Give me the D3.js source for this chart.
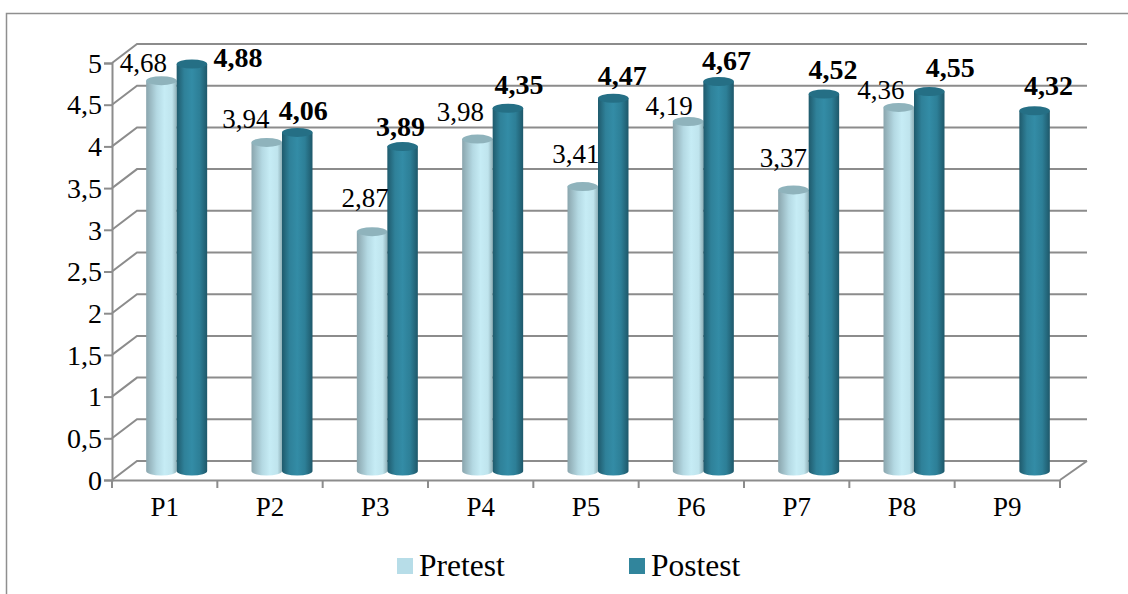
<!DOCTYPE html>
<html>
<head>
<meta charset="utf-8">
<script src="https://cdn.jsdelivr.net/npm/d3@7"></script>
<style>
html, body { margin: 0; padding: 0; background: #fff; }
svg { display: block; }
text { font-family: "Liberation Serif", serif; fill: #000; }
</style>
</head>
<body>
<svg id="chart" width="1128" height="594"></svg>
<script>
const categories = ['P1', 'P2', 'P3', 'P4', 'P5', 'P6', 'P7', 'P8', 'P9'];
const pretest = [4.68, 3.94, 2.87, 3.98, 3.41, 4.19, 3.37, 4.36, null];
const postest = [4.88, 4.06, 3.89, 4.35, 4.47, 4.67, 4.52, 4.55, 4.32];
const tickValues = [0, 0.5, 1, 1.5, 2, 2.5, 3, 3.5, 4, 4.5, 5];
const seriesNames = ['Pretest', 'Postest'];

// hand placed labels in the original, so they get nudged one by one [dx, dy]
const preNudge = [[-18, -9], [-21, -14], [-7, -25], [-17, -18], [-7, -24], [-19, -7], [-10, -23], [-18, -8], [0, 0]];
const postNudge = [[46, 3], [6, -12], [-2, -11], [11, -14], [9, -13], [8, -12], [9, -15], [21, -15], [14, -16]];

const svg = d3.select('#chart');
const comma = d => String(d).replace('.', ',');

const xScale = d3.scaleBand().domain(categories).range([112, 1060]);
const yScale = d3.scaleLinear().domain([0, 5]).range([480, 63]);
const seriesScale = d3.scaleBand().domain(seriesNames).range([0, 61]);

const depthX = 25, depthY = 19;
const barShiftX = 12, barShiftY = 9;
const barW = seriesScale.bandwidth(), capRy = 4.5;
const gridColor = '#8c8c8c';

// outer frame, only left and top show
svg.append('path').attr('d', 'M6.5,594V13.5H1128').attr('fill', 'none').attr('stroke', '#8f8f8f').attr('stroke-width', 1.5);

// back wall grid + slanted side wall
const grid = svg.append('g').attr('fill', 'none').attr('stroke', gridColor).attr('stroke-width', 2);
tickValues.forEach(t => {
  grid.append('path').attr('d', `M${xScale.range()[0]},${yScale(t)}L${xScale.range()[0] + depthX},${yScale(t) - depthY}H${xScale.range()[1] + depthX + 2}`);
});
grid.append('path').attr('d', `M${xScale.range()[1]},${yScale(0)}L${xScale.range()[1] + depthX + 2},${yScale(0) - depthY}`);

// axes
const yAxis = d3.axisLeft(yScale).tickValues(tickValues).tickFormat(comma).tickSize(8).tickPadding(2);
const gy = svg.append('g').attr('transform', 'translate(112,0)').call(yAxis);
gy.selectAll('text').style('font-size', '28px').attr('dy', '0.33em');

const xAxis = d3.axisBottom(xScale).tickSize(0).tickPadding(17);
const gx = svg.append('g').attr('transform', `translate(0,${yScale(0)})`).call(xAxis);
gx.selectAll('text').style('font-size', '27px').attr('dy', '0.71em');
gx.selectAll('.bound').data(d3.range(categories.length + 1)).enter().append('line')
  .attr('class', 'bound')
  .attr('x1', i => 112 + i * xScale.step()).attr('x2', i => 112 + i * xScale.step())
  .attr('y1', 0).attr('y2', 8);
svg.selectAll('.domain, .tick line, .bound').attr('stroke', gridColor).attr('stroke-width', 2);

// cylinder shading
const defs = svg.append('defs');
function shade(id, stops) {
  const g = defs.append('linearGradient').attr('id', id);
  stops.forEach(s => g.append('stop').attr('offset', s[0]).attr('stop-color', s[1]));
}
shade('preBody', [[0, '#8aa5ad'], [0.35, '#b4d9e3'], [0.6, '#c6ecf5'], [0.85, '#bfe4ed'], [1, '#8fb0b8']]);
shade('postBody', [[0, '#1f5a6c'], [0.25, '#2f8199'], [0.5, '#338ca6'], [0.75, '#2d7f97'], [1, '#1e586a']]);

function drawCylinders(values, name, body, cap) {
  const g = svg.append('g');
  const rows = categories.map((c, i) => ({ c: c, v: values[i] })).filter(d => d.v !== null);
  const left = d => xScale(d.c) + barShiftX + xScale.bandwidth() / 2 - 30.5 + seriesScale(name);
  const bottom = yScale(0) - barShiftY;
  g.selectAll('path').data(rows).enter().append('path')
    .attr('fill', `url(#${body})`)
    .attr('d', d => {
      const top = yScale(d.v) - barShiftY;
      return `M${left(d)},${top}V${bottom}A${barW / 2},${capRy} 0 0 0 ${left(d) + barW},${bottom}V${top}Z`;
    });
  g.selectAll('ellipse').data(rows).enter().append('ellipse')
    .attr('cx', d => left(d) + barW / 2)
    .attr('cy', d => yScale(d.v) - barShiftY)
    .attr('rx', barW / 2).attr('ry', capRy)
    .attr('fill', cap);
}
drawCylinders(pretest, 'Pretest', 'preBody', '#8fb3bc');
drawCylinders(postest, 'Postest', 'postBody', '#256f85');

// value labels
function drawLabels(values, name, nudge, size, weight) {
  categories.forEach((c, i) => {
    if (values[i] === null) return;
    const cx = xScale(c) + barShiftX + xScale.bandwidth() / 2 - 30.5 + seriesScale(name) + barW / 2;
    svg.append('text')
      .attr('x', cx + nudge[i][0])
      .attr('y', yScale(values[i]) - barShiftY + nudge[i][1])
      .attr('text-anchor', 'middle')
      .style('font-size', size + 'px')
      .style('font-weight', weight)
      .text(comma(values[i]));
  });
}
drawLabels(pretest, 'Pretest', preNudge, 27, 'normal');
drawLabels(postest, 'Postest', postNudge, 28, 'bold');

// legend
const legendColor = d3.scaleOrdinal().domain(seriesNames).range(['#b7dde8', '#31859c']);
const legendX = d3.scaleOrdinal().domain(seriesNames).range([397, 629]);
const legend = svg.selectAll('.legend').data(seriesNames).enter().append('g').attr('class', 'legend')
  .attr('transform', d => `translate(${legendX(d)},558)`);
legend.append('rect').attr('width', 16).attr('height', 16).attr('fill', d => legendColor(d));
legend.append('text').attr('x', 22).attr('y', 18).style('font-size', '31.5px').text(d => d);
</script>
</body>
</html>
